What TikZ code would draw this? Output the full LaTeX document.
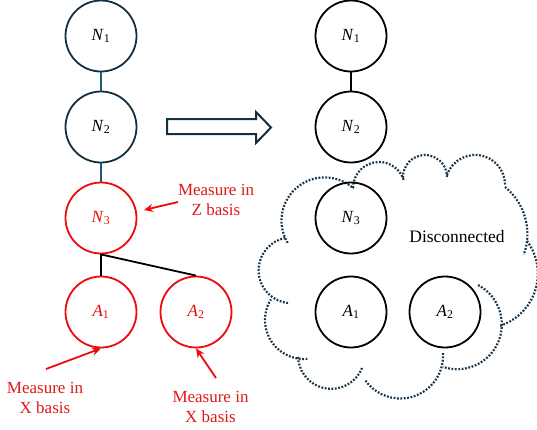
\documentclass[tikz,border=0pt]{standalone}
\usepackage{fontspec}
\setmainfont{Liberation Serif}
\usetikzlibrary{arrows.meta}
\definecolor{navy}{RGB}{20,48,64}
\definecolor{tealline}{RGB}{30,90,120}
\definecolor{cloudc}{RGB}{25,52,72}
\definecolor{myred}{RGB}{240,10,10}
\definecolor{redtext}{RGB}{225,25,25}
\newcommand{\qlab}[2]{{\itshape #1\/}\textsubscript{#2}}
\tikzset{
  qnode/.style={circle, draw, line width=1.8pt, minimum size=71pt, inner sep=0pt, font=\fontsize{17}{20}\selectfont},
  blkq/.style={qnode, draw=black},
  navyq/.style={qnode, draw=navy},
  redq/.style={qnode, draw=myred, text=myred},
  conn/.style={line width=1.8pt},
  meas/.style={text=redtext, align=center, font=\fontsize{17}{20}\selectfont, inner sep=0pt},
  redarrow/.style={draw=myred, line width=1.8pt, -{Stealth[length=9pt,width=8pt]}},
  cloudline/.style={draw=cloudc, line width=2.2pt, dash pattern=on 1.8pt off 1.6pt},
}
\begin{document}
\begin{tikzpicture}[x=1pt,y=1pt,yscale=-1]
\useasboundingbox (0,0) rectangle (537,429);
% left column
\node[navyq] (LN1) at (101,36) {\qlab{N}{1}};
\node[navyq] (LN2) at (101,127) {\qlab{N}{2}};
\node[redq] (LN3) at (101,218) {\qlab{N}{3}};
\node[redq] (LA1) at (101,312) {\qlab{A}{1}};
\node[redq] (LA2) at (196,312) {\qlab{A}{2}};
\draw[conn, tealline] (LN1) -- (LN2);
\draw[conn, tealline] (LN2) -- (LN3);
\draw[conn, black] (LN3.south) -- (LA1.north);
\draw[conn, black] (LN3.south) -- (LA2.north);
% measurement labels
\node[meas] (MZ) at (216,199.5) {Measure in\\Z basis};
\node[meas] (MX1) at (45,397.5) {Measure in\\X basis};
\node[meas] (MX2) at (210.5,406.5) {Measure in\\X basis};
\coordinate (MZs) at (178,202);
\coordinate (MZe) at (144,210);
\coordinate (MX1s) at (46,369);
\coordinate (MX2s) at (216,378);
\draw[redarrow] (MZs) -- (MZe);
\draw[redarrow] (MX1s) -- (LA1.south);
\draw[redarrow] (MX2s) -- (LA2.south);
% block arrow
\draw[navy, line width=2pt, fill=white, line join=miter]
  (167,119) -- (256,119) -- (256,112) -- (271,127.5) -- (256,143) -- (256,134) -- (167,134) -- cycle;
% cloud
\draw[cloudline] (324.7,220.6) ++(149:43.2) arc[start angle=149, end angle=312, radius=43.2];
\draw[cloudline] (379,188) ++(180:26) arc[start angle=180, end angle=343, radius=26];
\draw[cloudline] (425,177) ++(178:22) arc[start angle=178, end angle=360, radius=22];
\draw[cloudline] (475.2,184.75) ++(199:29.8) arc[start angle=199, end angle=362.4, radius=29.8];
\draw[cloudline] (466.9,234) ++(309:60.5) arc[start angle=309, end angle=380, radius=60.5];
\draw[cloudline] (482.9,273.7) ++(323.4:54.9) arc[start angle=323.4, end angle=432, radius=54.9];
\draw[cloudline] (457.1,324.5) ++(298:44.7) arc[start angle=298, end angle=468.4, radius=44.7];
\draw[cloudline] (400.3,355.7) ++(-3.6:42.8) arc[start angle=-3.6, end angle=145.5, radius=42.8];
\draw[cloudline] (331.2,355.6) ++(21.9:33.2) arc[start angle=21.9, end angle=177.6, radius=33.2];
\draw[cloudline] (304,320) ++(85:39) arc[start angle=85, end angle=212, radius=39];
\draw[cloudline] (291.5,270.3) ++(96:32.9) arc[start angle=96, end angle=258.6, radius=32.9];
% right column
\node[blkq] (RN1) at (351,36) {\qlab{N}{1}};
\node[blkq] (RN2) at (351,127) {\qlab{N}{2}};
\node[blkq] (RN3) at (351,218) {\qlab{N}{3}};
\node[blkq] (RA1) at (351,312) {\qlab{A}{1}};
\node[blkq] (RA2) at (445,312) {\qlab{A}{2}};
\draw[conn, black] (RN1) -- (RN2);
\node[font=\fontsize{17.5}{20}\selectfont] (DC) at (457,237) {Disconnected};
\end{tikzpicture}
\end{document}
